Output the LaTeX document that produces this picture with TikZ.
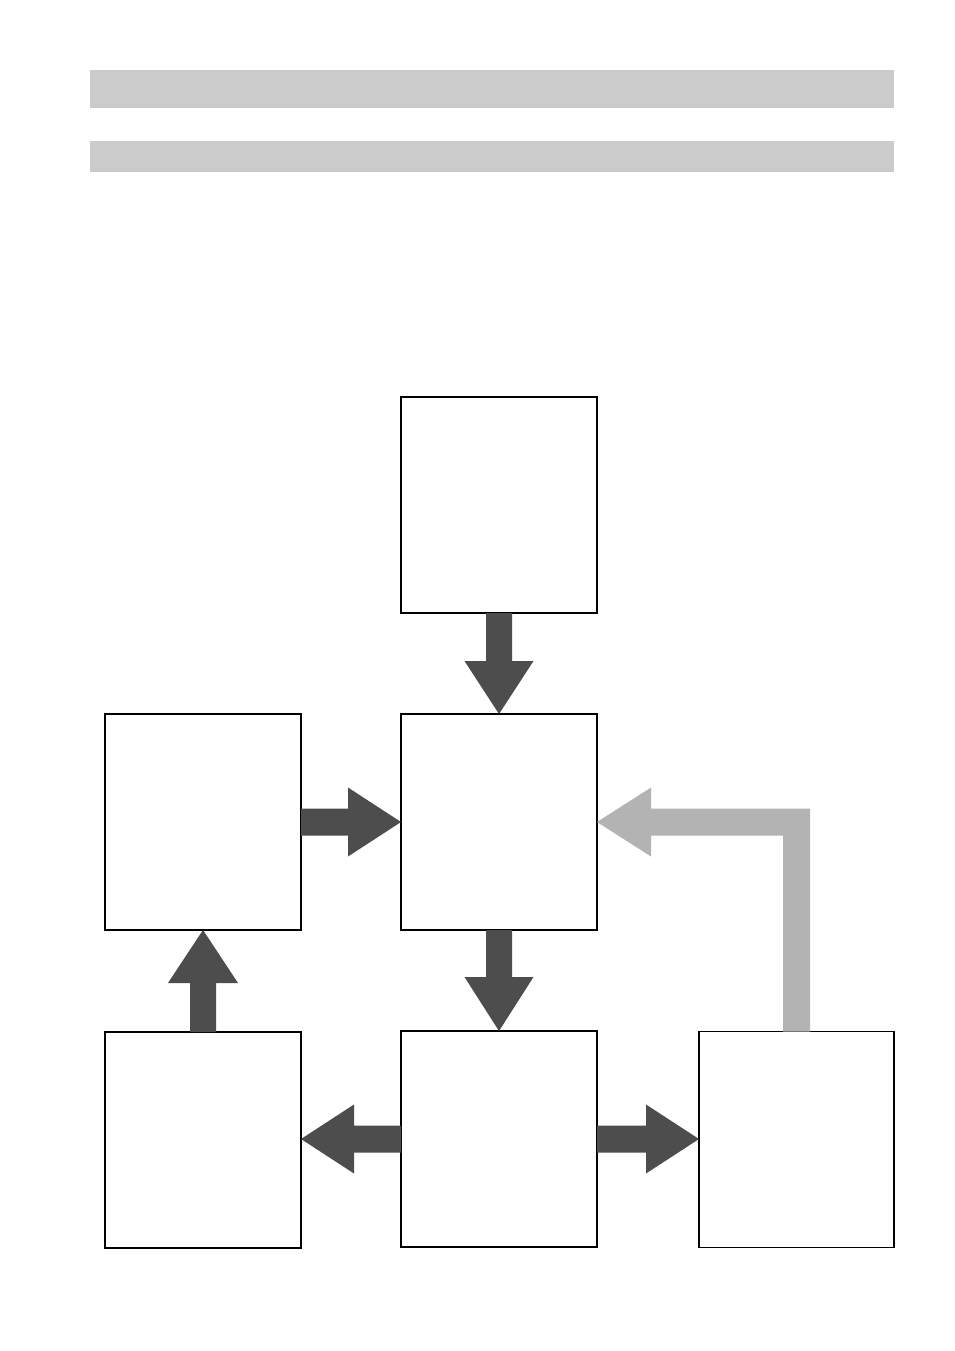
\documentclass[tikz,border=0pt]{standalone}
\usetikzlibrary{calc}
\definecolor{bargray}{HTML}{CBCBCB}
\definecolor{arrowdark}{HTML}{4D4D4D}
\definecolor{arrowlight}{HTML}{B3B3B3}
\tikzset{
  box/.style={draw=black, line width=1.2pt, fill=white, minimum width=196pt, minimum height=216pt, inner sep=0pt, outer sep=0pt},
  headerbar/.style={fill=bargray, draw=none, minimum width=804pt, inner sep=0pt, outer sep=0pt},
  darkarrow/.style={fill=arrowdark, draw=none},
  lightarrow/.style={fill=arrowlight, draw=none}
}
\begin{document}
\begin{tikzpicture}[x=1pt, y=-1pt]
\useasboundingbox (0,0) rectangle (954,1351);
\fill[white] (0,0) rectangle (954,1351);
% header bars
\node[headerbar, minimum height=38pt] (bar1) at (492,89) {};
\node[headerbar, minimum height=31pt] (bar2) at (492,156.5) {};
% boxes
\node[box] (top) at (499,505) {};
\node[box] (mid) at (499,822) {};
\node[box] (left) at (203,822) {};
\node[box] (bl) at (203,1140) {};
\node[box] (bm) at (499,1139) {};
\node[box, minimum width=195pt] (br) at (796.5,1139.5) {};
% top -> mid
\fill[darkarrow] ($(top.south)+(-13,0)$) -- ($(mid.north)+(-13,-53)$) -- ($(mid.north)+(-34.5,-53)$) -- (mid.north) -- ($(mid.north)+(34.5,-53)$) -- ($(mid.north)+(13,-53)$) -- ($(top.south)+(13,0)$) -- cycle;
% mid -> bm
\fill[darkarrow] ($(mid.south)+(-13,0)$) -- ($(bm.north)+(-13,-54)$) -- ($(bm.north)+(-34.5,-54)$) -- (bm.north) -- ($(bm.north)+(34.5,-54)$) -- ($(bm.north)+(13,-54)$) -- ($(mid.south)+(13,0)$) -- cycle;
% left -> mid
\fill[darkarrow] ($(left.east)+(0,-13.5)$) -- ($(mid.west)+(-53,-13.5)$) -- ($(mid.west)+(-53,-34.5)$) -- (mid.west) -- ($(mid.west)+(-53,34.5)$) -- ($(mid.west)+(-53,13.5)$) -- ($(left.east)+(0,13.5)$) -- cycle;
% bl -> left
\fill[darkarrow] ($(bl.north)+(-13,0)$) -- ($(left.south)+(-13,53)$) -- ($(left.south)+(-35,53)$) -- (left.south) -- ($(left.south)+(35,53)$) -- ($(left.south)+(13,53)$) -- ($(bl.north)+(13,0)$) -- cycle;
% bm -> bl
\coordinate (blin) at (bl.east |- bm.west);
\fill[darkarrow] ($(bm.west)+(0,-13.5)$) -- ($(blin)+(53,-13.5)$) -- ($(blin)+(53,-34.5)$) -- (blin) -- ($(blin)+(53,34.5)$) -- ($(blin)+(53,13.5)$) -- ($(bm.west)+(0,13.5)$) -- cycle;
% bm -> br
\coordinate (brin) at (br.west |- bm.east);
\fill[darkarrow] ($(bm.east)+(0,-13.5)$) -- ($(brin)+(-53,-13.5)$) -- ($(brin)+(-53,-34.5)$) -- (brin) -- ($(brin)+(-53,34.5)$) -- ($(brin)+(-53,13.5)$) -- ($(bm.east)+(0,13.5)$) -- cycle;
% br -> mid (feedback)
\fill[lightarrow] ($(br.north)+(13.5,0)$) -- ($(br.north |- mid.east)+(13.5,-13.5)$) -- ($(mid.east)+(54,-13.5)$) -- ($(mid.east)+(54,-34.5)$) -- (mid.east) -- ($(mid.east)+(54,34.5)$) -- ($(mid.east)+(54,13.5)$) -- ($(br.north |- mid.east)+(-13.5,13.5)$) -- ($(br.north)+(-13.5,0)$) -- cycle;
\end{tikzpicture}
\end{document}
